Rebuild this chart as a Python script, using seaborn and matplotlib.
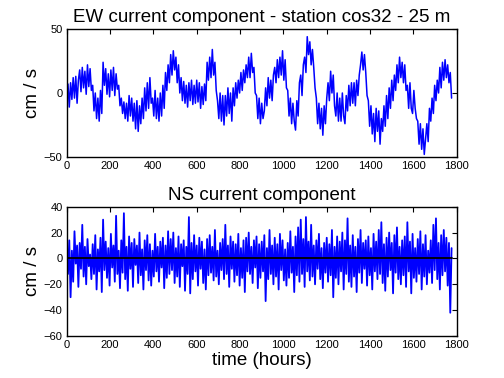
import numpy as np
import pandas as pd
import matplotlib
matplotlib.use("Agg")
import matplotlib.pyplot as plt
import seaborn as sns

# sampling step of the record (hours)
dt = 6

# EW component (cm/s), one value per 6 h
ew = [
    -6, 7, -11, 8, -5, 12, -4, 13, -8, 10,
    18, 1, 20, 4, 17, -1, 22, 5, 19, 2,
    6, -14, 0, -20, -4, -22, 2, -16, 24, 6,
    19, -1, 15, -3, 18, 2, 20, -2, 15, 3,
    6, -10, -4, -16, -7, -20, -8, -22, -2, -18,
    -4, -22, -8, -28, -6, -30, -10, -24, -4, -20,
    4, -14, 8, -12, 12, -8, -4, -18, 2, -20,
    -4, -22, 0, -18, 6, -12, 16, 2, 22, 8,
    30, 14, 33, 18, 28, 8, 22, 0, 12, -6,
    9, -8, 6, -11, 8, -6, 10, -9, 6, -8,
    10, -7, 8, -12, 5, -9, 7, -6, 24, 10,
    28, 12, 34, 14, 24, 2, -6, -20, 0, -22,
    -2, -25, -2, -18, 4, -16, 0, -22, 4, -10,
    8, -4, 10, 0, 16, 2, 18, 8, 22, 12,
    28, 12, 31, 16, 20, 0, -2, -20, -4, -24,
    -8, -20, -14, 4, -10, 12, -4, 10, -6, 14,
    20, 8, 26, 12, 28, 14, 33, 10, 26, 4,
    2, -18, -4, -24, -8, -22, -29, -6, -18, 8,
    14, -2, 22, 28, 16, 44, 30, 40, 22, 34,
    20, 4, -4, -24, -8, -28, -12, -33, -10, -24,
    -4, 8, -6, 17, 0, 14, -10, -18, 0, -22,
    -4, -22, 0, -18, -24, -2, -14, 6, -10, 8,
    -8, 8, -10, 10, -2, 14, 22, 32, 18, 30,
    16, -2, -6, -26, -10, -32, -16, -38, -12, -30,
    -14, -40, -20, -30, -10, -26, -2, -20, 4, -12,
    10, -6, 14, 2, 22, 8, 28, 12, 24, 8,
    22, 2, 6, -12, 8, -12, -16, 2, -12, -20,
    -22, -40, -24, -44, -28, -48, -36, -24, -38, -12,
    -22, -4, -16, 6, -6, 10, 0, 20, 4, 24,
    10, 26, 12, 22, 8, 16, -4,
]

# NS component (cm/s)
ns = [
    8, -12, 14, -30, 6, -18, 21, -4, 10, -22,
    12, -8, 26, -14, 9, -20, 15, -6, 3, -16,
    11, -12, 18, -24, 7, -10, 16, -26, 30, -9,
    13, -15, 8, -21, 19, -7, 10, -18, 33, -12,
    6, -23, 14, -11, 35, -16, 9, -25, 17, -8,
    12, -22, 15, -5, 10, -19, 20, -13, 7, -24,
    14, -9, 18, -17, 11, -21, 6, -14, 19, -10,
    9, -18, 13, -7, 16, -23, 10, -15, 21, -12,
    15, -9, 20, -19, 8, -14, 17, -22, 11, -6,
    14, -25, 9, -12, 32, -27, 12, -16, 18, -10,
    10, -21, 16, -8, 13, -19, 7, -24, 15, -13,
    18, -11, 9, -17, 22, -14, 6, -20, 12, -9,
    15, -16, 26, -12, 10, -22, 17, -8, 13, -18,
    11, -13, 19, -21, 8, -15, 14, -26, 16, -10,
    20, -12, 9, -19, 14, -7, 17, -23, 11, -15,
    13, -10, 18, -33, 8, -16, 22, -12, 10, -20,
    16, -14, 11, -24, 19, -9, 14, -17, 7, -21,
    12, -15, 21, -11, 9, -26, 17, -13, 24, -18,
    30, -12, 15, -22, 32, -10, 13, -17, 26, -14,
    10, -20, 14, -8, 19, -16, 8, -23, 12, -11,
    16, -18, 11, -13, 22, -30, 9, -15, 17, -20,
    13, -10, 20, -24, 14, -12, 31, -18, 10, -22,
    18, -14, 9, -26, 15, -11, 22, -19, 12, -8,
    14, -21, 17, -13, 8, -24, 19, -10, 13, -16,
    22, -12, 28, -19, 11, -25, 16, -14, 20, -9,
    12, -27, 18, -11, 24, -16, 9, -20, 14, -13,
    17, -22, 28, -10, 13, -27, 19, -15, 8, -18,
    15, -12, 21, -24, 11, -14, 18, -20, 6, -11,
    14, -19, 26, -9, 31, -16, 12, -24, 18, -13,
    22, -10, 16, -21, 12, -42, 8,
]

hours = np.arange(len(ew)) * dt
df = pd.DataFrame({"hours": hours, "ew": ew, "ns": ns})

sns.set_theme(style="white")
plt.rcParams["font.family"] = ["Liberation Sans", "DejaVu Sans"]
plt.rcParams.update({
    "text.color": "black",
    "axes.labelcolor": "black",
    "xtick.color": "black",
    "ytick.color": "black",
    "axes.edgecolor": "black",
    "axes.linewidth": 1.0,
    "xtick.direction": "in",
    "ytick.direction": "in",
    "xtick.top": True,
    "ytick.right": True,
    "xtick.major.size": 3.5,
    "ytick.major.size": 3.5,
    "xtick.major.width": 0.8,
    "ytick.major.width": 0.8,
    "xtick.labelsize": 8,
    "ytick.labelsize": 8,
})

fig = plt.figure(figsize=(5.04, 3.78), dpi=100)
ax1 = fig.add_axes([0.1323, 0.5847, 0.774, 0.3386])
ax2 = fig.add_axes([0.1323, 0.1111, 0.774, 0.342])

# ==========================================
# upper panel: EW
# ==========================================
sns.lineplot(data=df, x="hours", y="ew", ax=ax1, color="#0000ff", linewidth=1.1)
ax1.set_xlim(0, 1800)
ax1.set_ylim(-50, 50)
ax1.set_xticks(range(0, 1801, 200))
ax1.set_yticks([-50, 0, 50])
ax1.set_xlabel("")
ax1.set_ylabel("cm / s", fontsize=13.5, labelpad=2)
ax1.set_title("EW current component - station cos32 - 25 m", fontsize=13.5, pad=5)

# ==========================================
# lower panel: NS
# ==========================================
sns.lineplot(data=df, x="hours", y="ns", ax=ax2, color="#0000ff", linewidth=1.3)
ax2.plot([hours[0], hours[-1]], [0, 0], color="black", linewidth=1.3)
ax2.set_xlim(0, 1800)
ax2.set_ylim(-60, 40)
ax2.set_xticks(range(0, 1801, 200))
ax2.set_yticks(range(-60, 41, 20))
ax2.set_xlabel("time (hours)", fontsize=13.5, labelpad=1)
ax2.set_ylabel("cm / s", fontsize=13.5, labelpad=2)
ax2.set_title("NS current component", fontsize=13.5, pad=5)

for ax in (ax1, ax2):
    ax.tick_params(colors="black", pad=3)
    for s in ax.spines.values():
        s.set_visible(True)
        s.set_color("black")

fig.savefig("out.png", dpi=100, facecolor="white")
